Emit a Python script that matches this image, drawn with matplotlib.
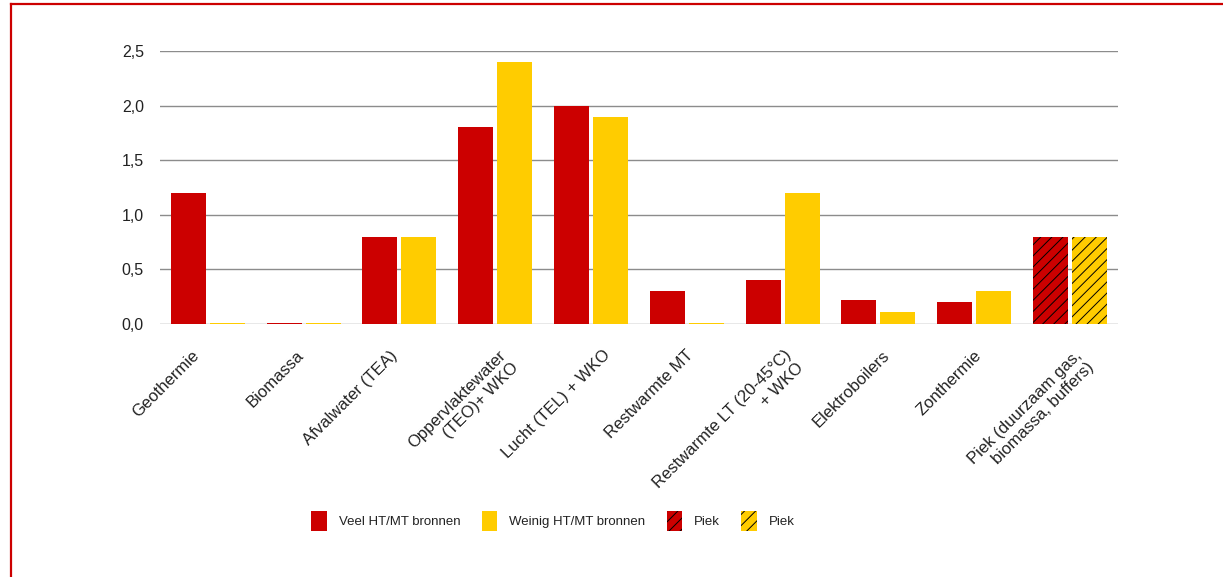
import matplotlib
matplotlib.use('Agg')
import matplotlib.pyplot as plt
from matplotlib.lines import Line2D
from matplotlib.patches import Patch
from matplotlib.ticker import FuncFormatter
from matplotlib.transforms import ScaledTranslation
import numpy as np

plt.rcParams['font.family'] = ['Liberation Sans', 'DejaVu Sans']
plt.rcParams['hatch.linewidth'] = 0.7

# data
categories = ['Geothermie', 'Biomassa', 'Afvalwater (TEA)', 'Oppervlaktewater\n(TEO)+ WKO',
              'Lucht (TEL) + WKO', 'Restwarmte MT', 'Restwarmte LT (20-45°C)\n+ WKO',
              'Elektroboilers', 'Zonthermie', 'Piek (duurzaam gas,\nbiomassa, buffers)']
veel = [1.2, 0.01, 0.8, 1.8, 2.0, 0.3, 0.4, 0.22, 0.2, 0.8]
weinig = [0.01, 0.01, 0.8, 2.4, 1.9, 0.01, 1.2, 0.11, 0.3, 0.8]
piek_flags = [False] * 9 + [True]
legend_labels = ['Veel HT/MT bronnen', 'Weinig HT/MT bronnen', 'Piek', 'Piek']

# horizontal nudge (px) of each category label, as in the original layout
label_dx = [-17, -8, -10, 3, 12, -1, 1, 3, -1, 4]

red = '#CC0000'
yellow = '#FFCC00'
text_col = '#222222'

fig = plt.figure(figsize=(12.23, 5.77), dpi=100)
ax = fig.add_axes([0.1308, 0.4385, 0.7833, 0.4731])

x = np.arange(len(categories))
w = 0.365
off = 0.2035
for i in range(len(categories)):
    hatch = '///' if piek_flags[i] else None
    ax.bar(x[i] - off, veel[i], w, color=red, hatch=hatch,
           edgecolor='black' if hatch else red, linewidth=0, zorder=3)
    ax.bar(x[i] + off, weinig[i], w, color=yellow, hatch=hatch,
           edgecolor='black' if hatch else yellow, linewidth=0, zorder=3)

ax.set_xlim(-0.5, len(categories) - 0.5)
ax.set_ylim(0, 2.5)
ax.set_yticks(np.arange(0, 2.51, 0.5))
ax.yaxis.set_major_formatter(FuncFormatter(lambda v, p: ('%.1f' % v).replace('.', ',')))
ax.grid(axis='y', color='#8c8c8c', linewidth=1.0, zorder=0)
for s in ax.spines.values():
    s.set_visible(False)
ax.tick_params(axis='both', length=0, colors=text_col)
ax.tick_params(axis='y', pad=11.5, labelsize=11.5)
ax.tick_params(axis='x', pad=17, labelsize=12)
ax.set_xticks(x)
ax.set_xticklabels(categories, rotation=45, ha='right', va='top',
                   rotation_mode='anchor', multialignment='right', linespacing=1.2)
for lab, dx in zip(ax.get_xticklabels(), label_dx):
    lab.set_transform(lab.get_transform() + ScaledTranslation(dx / 100, 0, fig.dpi_scale_trans))

handles = [Patch(facecolor=red, edgecolor=red, linewidth=0),
           Patch(facecolor=yellow, edgecolor=yellow, linewidth=0),
           Patch(facecolor=red, edgecolor='black', linewidth=0, hatch='///'),
           Patch(facecolor=yellow, edgecolor='black', linewidth=0, hatch='///')]
leg = fig.legend(handles, legend_labels, loc='center', bbox_to_anchor=(553 / 1223, 1 - 521 / 577),
                 ncol=4, frameon=False, fontsize=9.5, handlelength=1.2, handleheight=1.9,
                 handletextpad=0.9, columnspacing=1.6, labelcolor=text_col)

# red frame (top and left only)
fig.add_artist(Line2D([11 / 1223, 1], [1 - 3.5 / 577, 1 - 3.5 / 577], color=red, linewidth=1.6))
fig.add_artist(Line2D([11 / 1223, 11 / 1223], [0, 1 - 3.5 / 577], color=red, linewidth=1.6))

fig.savefig('out.png', dpi=100)
